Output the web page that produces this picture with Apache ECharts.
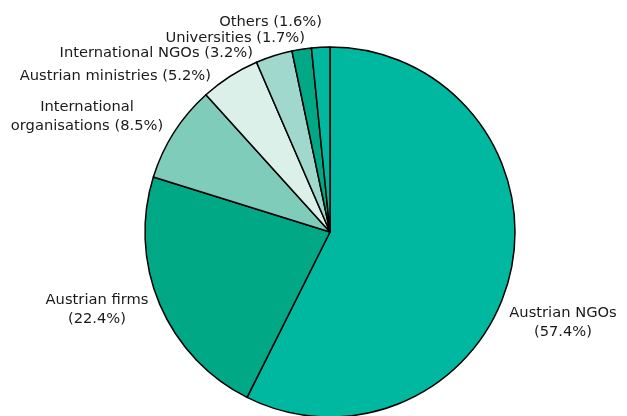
<!DOCTYPE html>
<html>
<head>
<meta charset="utf-8">
<script src="https://cdn.jsdelivr.net/npm/echarts@6/dist/echarts.min.js"></script>
<style>
  html, body { margin: 0; padding: 0; background: #fff; }
  #chart { width: 627px; height: 416px; }
</style>
</head>
<body>
<div id="chart"></div>
<script>
// shares of funding by partner type, clockwise from 12 o'clock
var categories = ['Austrian NGOs', 'Austrian firms', 'International\norganisations',
    'Austrian ministries', 'International NGOs', 'Universities', 'Others'];
var shares = [57.4, 22.4, 8.5, 5.2, 3.2, 1.7, 1.6];
var colours = ['#00b8a0', '#00a886', '#7fccba', '#dcf0ea', '#a0d8cd', '#00a886', '#00b8a0'];

// where each label sits (text anchor), in px
var labelPos = [
    { x: 563, y: 323, align: 'center' },
    { x: 97, y: 310, align: 'center' },
    { x: 87, y: 117, align: 'center' },
    { x: 211, y: 76, align: 'right' },
    { x: 253, y: 53, align: 'right' },
    { x: 305, y: 38, align: 'right' },
    { x: 322, y: 22, align: 'right' }
];

var chart = echarts.init(document.getElementById('chart'));

var res = [];
for (var i = 0; i < shares.length; i++) {
    res.push({
        name: categories[i],
        value: shares[i],
        itemStyle: { color: colours[i] },
        label: { align: labelPos[i].align }
    });
}

chart.setOption({
    animation: false,
    series: [{
        type: 'pie',
        center: [330, 232],
        radius: 185,
        startAngle: 90,
        clockwise: true,
        itemStyle: { borderColor: '#000', borderWidth: 1.5 },
        label: {
            show: true,
            position: 'outside',
            formatter: function (p) {
                var sep = (p.dataIndex < 2) ? '\n' : ' ';
                return p.name + sep + '(' + p.value.toFixed(1) + '%)';
            },
            overflow: 'none',
            fontFamily: 'DejaVu Sans',
            fontSize: 14.7,
            color: '#1a1a1a',
            lineHeight: 19
        },
        labelLine: { show: false },
        labelLayout: function (p) {
            var lp = labelPos[p.dataIndex];
            return { x: lp.x, y: lp.y, align: lp.align, verticalAlign: 'middle' };
        },
        data: res
    }]
});
</script>
</body>
</html>
